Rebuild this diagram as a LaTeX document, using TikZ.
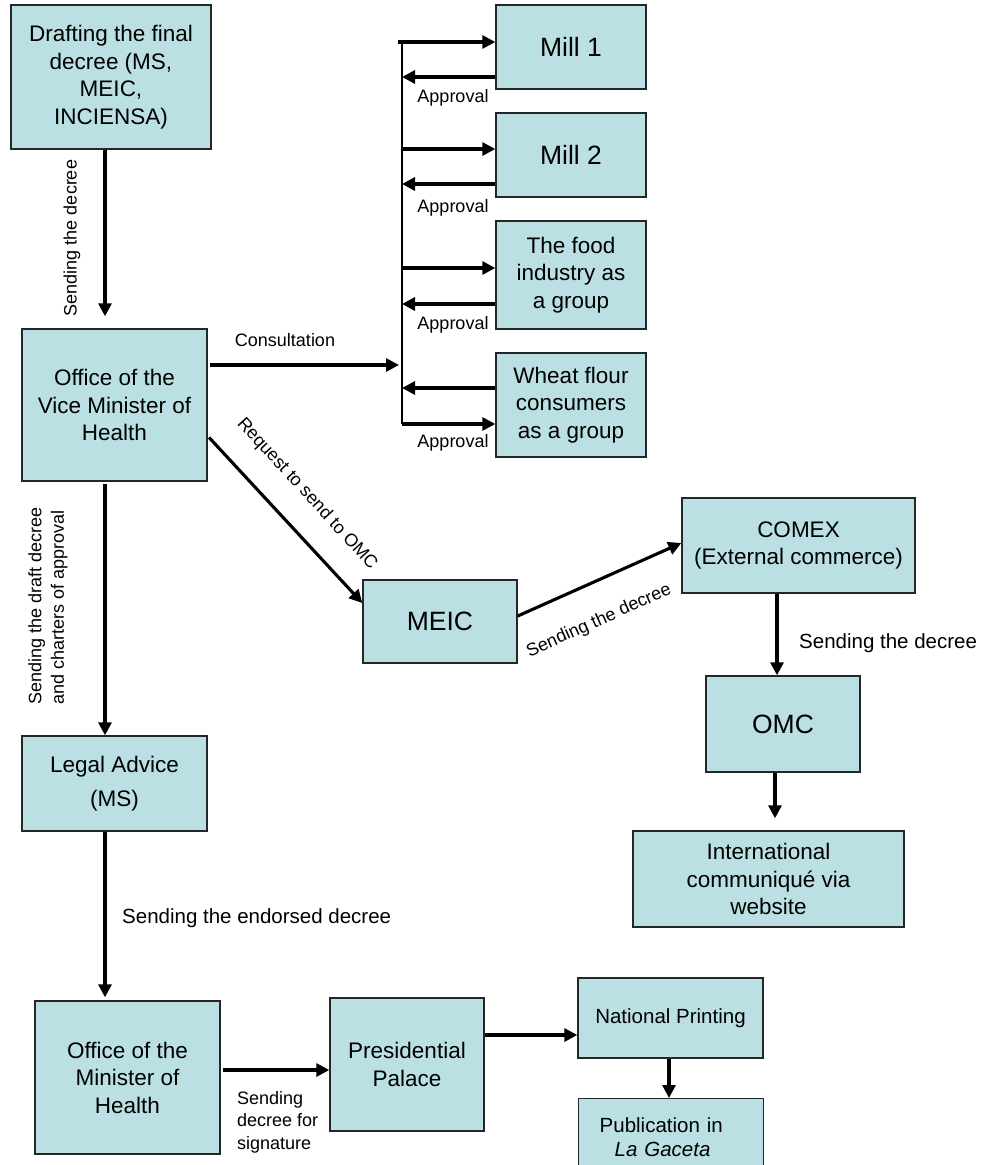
\documentclass[tikz,border=0pt]{standalone}
\usepackage{fontspec}
\setmainfont{Liberation Sans}
\usetikzlibrary{arrows.meta,calc}
\definecolor{boxfill}{RGB}{187,224,227}
\begin{document}
\begin{tikzpicture}[x=1pt,y=-1pt,
  box/.style={draw=black!85, line width=1.4pt, fill=boxfill, align=center, inner sep=2pt},
  fmain/.style={font=\fontsize{22.5}{27.5}\selectfont},
  fbig/.style={font=\fontsize{26.5}{30}\selectfont},
  fsmall/.style={font=\fontsize{18}{22.5}\selectfont},
  fmed/.style={font=\fontsize{20.5}{24}\selectfont},
  lbl/.style={inner sep=0pt},
  arr/.style={line width=3.1pt, -{Triangle[length=13pt,width=13pt]}},
  brline/.style={line width=1.7pt}
]
\useasboundingbox (0,0) rectangle (983,1165);

% boxes
\node[box,fmain,minimum width=200pt,minimum height=144pt] (draft) at (111,77) {Drafting the final\\decree (MS,\\MEIC,\\INCIENSA)};
\node[box,fmain,minimum width=185pt,minimum height=152pt] (vice) at (114.5,405) {Office of the\\Vice Minister of\\Health};
\node[box,fmain,minimum width=185pt,minimum height=95pt] (legal) at (114.5,783.5) {Legal Advice\\[6pt](MS)};
\node[box,fmain,minimum width=185pt,minimum height=153pt] (minister) at (127.5,1077.5) {Office of the\\Minister of\\Health};
\node[box,fmain,minimum width=154pt,minimum height=133pt] (palace) at (407,1064.5) {Presidential\\Palace};
\node[box,fmed,minimum width=185pt,minimum height=80pt] (natprint) at (670.5,1018) {National Printing};
\node[box,fmed,align=left,text width=143pt,inner xsep=21pt,minimum height=77pt,anchor=north west] (publication) at (578,1098) {Publication in\\\hspace*{15pt}\textit{La Gaceta}};

\node[box,fbig,minimum width=150pt,minimum height=84pt] (mill1) at (571,47) {Mill 1};
\node[box,fbig,minimum width=150pt,minimum height=84pt] (mill2) at (571,155) {Mill 2};
\node[box,fmain,minimum width=150pt,minimum height=108pt] (food) at (571,275) {The food\\industry as\\a group};
\node[box,fmain,minimum width=150pt,minimum height=104pt] (wheat) at (571,405) {Wheat flour\\consumers\\as a group};

\node[box,fbig,minimum width=154pt,minimum height=83pt] (meic) at (440,621.5) {MEIC};
\node[box,fmain,minimum width=233pt,minimum height=95pt] (comex) at (798.5,545.5) {COMEX\\(External commerce)};
\node[box,fbig,minimum width=154pt,minimum height=96pt] (omc) at (783,724) {OMC};
\node[box,fmain,minimum width=271pt,minimum height=96pt] (intl) at (768.5,879) {International\\communiqué via\\website};

% labels
\node[lbl,fsmall,rotate=90] (l1) at (72,238) {Sending the decree};
\node[lbl,fsmall,rotate=90,align=left] (l2) at (48,606) {Sending the draft decree\\and charters of approval};
\node[lbl,fsmall] (lcons) at (285,340) {Consultation};
\node[lbl,fsmall,rotate=-47.5] (lreq) at (307,494) {Request to send to OMC};
\node[lbl,fsmall] (ap1) at (453,98) {Approval};
\node[lbl,fsmall] (ap2) at (453,208) {Approval};
\node[lbl,fsmall] (ap3) at (453,325) {Approval};
\node[lbl,fsmall] (ap4) at (453,443) {Approval};
\node[lbl,fsmall,rotate=24] (lmc) at (599,621) {Sending the decree};
\node[lbl,fmed,anchor=west] (lco) at (799,643) {Sending the decree};
\node[lbl,fmed,anchor=west] (lend) at (122,918) {Sending the endorsed decree};
\node[lbl,fsmall,anchor=west,align=left] (lsig) at (237,1122) {Sending\\decree for\\signature};

% bracket
\coordinate (btop) at (402,41);
\coordinate (bbot) at (402,424);
\draw[brline] (btop) -- (bbot);

% connectors
\coordinate (dv) at ([xshift=-6pt]draft.south);
\draw[arr,shorten >=12pt] (dv) -- (dv |- vice.north);

\coordinate (cin) at ([yshift=40pt]vice.east);
\draw[arr,shorten <=2pt,shorten >=3pt] (cin) -- (cin -| btop);

\coordinate (m1in) at ([yshift=5pt]mill1.west);
\coordinate (m2in) at ([yshift=6pt]mill2.west);
\coordinate (fin) at ([yshift=7pt]food.west);
\coordinate (win) at ([yshift=-19pt]wheat.west);
\draw[arr] ([xshift=-4pt]m1in -| btop) -- (m1in);
\draw[arr] (m2in -| btop) -- (m2in);
\draw[arr] (fin -| btop) -- (fin);
\draw[arr] (win -| btop) -- (win);

\coordinate (m1out) at ([yshift=-30pt]mill1.west);
\coordinate (m2out) at ([yshift=-29pt]mill2.west);
\coordinate (fout) at ([yshift=-29pt]food.west);
\coordinate (wout) at ([yshift=17pt]wheat.west);
\draw[arr] (m1out) -- (m1out -| btop);
\draw[arr] (m2out) -- (m2out -| btop);
\draw[arr] (fout) -- (fout -| btop);
\draw[arr] (wout) -- (wout -| btop);

\draw[arr,shorten <=2pt] ([yshift=-31pt]vice.east) -- ([yshift=18.5pt]meic.west);
\draw[arr] ([yshift=5.5pt]meic.east) -- ([yshift=2.5pt]comex.west);

\coordinate (co) at ([xshift=-21.5pt]comex.south);
\draw[arr] (co) -- (co |- omc.north);
\coordinate (oi) at ([xshift=-8pt]omc.south);
\draw[arr,shorten >=12pt] (oi) -- (oi |- intl.north);

\coordinate (vl) at ([xshift=-9.5pt]vice.south);
\draw[arr,shorten <=2pt] (vl) -- (vl |- legal.north);
\coordinate (lm) at ([xshift=-9.5pt]legal.south);
\draw[arr,shorten >=3pt] (lm) -- (lm |- minister.north);

\coordinate (mp) at ([yshift=7.5pt]minister.east);
\draw[arr,shorten <=2pt] (mp) -- (mp -| palace.west);
\coordinate (pn) at ([yshift=-17pt]natprint.west);
\draw[arr] (pn -| palace.east) -- (pn);
\coordinate (np) at ([xshift=-1.5pt]natprint.south);
\draw[arr] (np) -- (np |- publication.north);
\end{tikzpicture}
\end{document}
